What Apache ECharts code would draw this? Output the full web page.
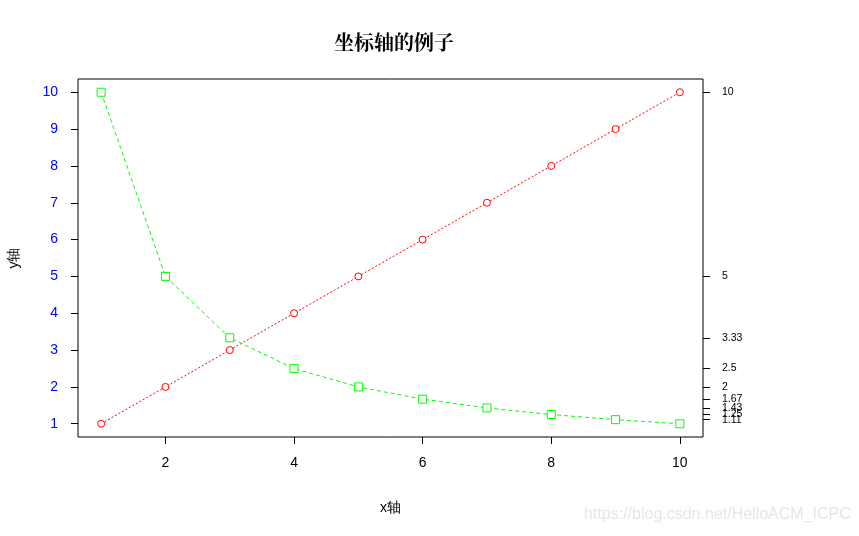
<!DOCTYPE html>
<html>
<head>
<meta charset="utf-8">
<script src="https://cdn.jsdelivr.net/npm/echarts@6/dist/echarts.min.js"></script>
<style>
  html, body { margin: 0; padding: 0; background: #fff; }
  #chart { width: 859px; height: 536px; }
</style>
</head>
<body>
<div id="chart"></div>
<script>
(function () {
    'use strict';

    // data
    var xValues = [1, 2, 3, 4, 5, 6, 7, 8, 9, 10];
    var yValues = [1, 2, 3, 4, 5, 6, 7, 8, 9, 10];
    var zValues = [10, 5, 3.333, 2.5, 2, 1.667, 1.429, 1.25, 1.111, 1];
    var xTicks = [2, 4, 6, 8, 10];
    var yTicks = [1, 2, 3, 4, 5, 6, 7, 8, 9, 10];

    var chart = echarts.init(document.getElementById('chart'));

    function pairs(xs, ys) {
        return xs.map(function (x, i) { return [x, ys[i]]; });
    }

    var font = 'Liberation Sans, Arial, sans-serif';

    chart.setOption({
        animation: false,
        backgroundColor: '#fff',
        title: {
            text: '坐标轴的例子',
            left: 329, top: 27,
            textStyle: { fontFamily: 'Noto Serif CJK SC, Noto Sans CJK SC, serif', fontWeight: 'bold', fontSize: 20, color: '#000' }
        },
        grid: {
            left: 78, right: 156, top: 79, bottom: 99,
            outerBoundsMode: 'none', containLabel: false,
            show: true, borderColor: '#000', borderWidth: 1
        },
        xAxis: {
            type: 'value', min: 0.64, max: 10.36,
            name: 'x轴', nameLocation: 'middle', nameGap: 64,
            nameTextStyle: { fontFamily: font, fontSize: 14, color: '#000' },
            axisLine: { show: false },
            splitLine: { show: false },
            axisTick: { show: true, inside: false, length: 7, customValues: xTicks, lineStyle: { color: '#000' } },
            axisLabel: { customValues: xTicks, margin: 19, fontFamily: font, fontSize: 14, color: '#000' }
        },
        yAxis: [{
            type: 'value', min: 0.64, max: 10.36, position: 'left',
            name: 'y轴', nameLocation: 'middle', nameGap: 57, nameRotate: 90,
            nameTextStyle: { fontFamily: font, fontSize: 14, color: '#000' },
            axisLine: { show: false },
            splitLine: { show: false },
            axisTick: { show: true, length: 7, customValues: yTicks, lineStyle: { color: '#000' } },
            axisLabel: { customValues: yTicks, margin: 20, fontFamily: font, fontSize: 14, color: '#0000ff' }
        }, {
            type: 'value', min: 0.64, max: 10.36, position: 'right',
            axisLine: { show: false },
            splitLine: { show: false },
            axisTick: { show: true, length: 7, customValues: zValues, lineStyle: { color: '#000' } },
            axisLabel: {
                customValues: zValues, margin: 19, fontFamily: font, fontSize: 10.5, color: '#000',
                hideOverlap: false,
                formatter: function (v) { return String(Math.round(v * 100) / 100); }
            }
        }],
        series: [{
            type: 'line',
            data: pairs(xValues, yValues),
            symbol: 'circle', symbolSize: 7,
            itemStyle: { color: '#fff', borderColor: '#ff0000', borderWidth: 1 },
            lineStyle: { color: '#ff0000', width: 1, type: [2, 2] }
        }, {
            type: 'line',
            data: pairs(xValues, zValues),
            symbol: 'rect', symbolSize: 8,
            itemStyle: { color: '#fff', borderColor: '#00ff00', borderWidth: 1 },
            lineStyle: { color: '#00ff00', width: 1, type: [4, 3] }
        }],
        graphic: [{
            type: 'text', left: 584, top: 507,
            style: { text: 'https://blog.csdn.net/HelloACM_ICPC', fill: '#e6e6e6', font: '16px ' + font }
        }]
    });
})();
</script>
</body>
</html>
